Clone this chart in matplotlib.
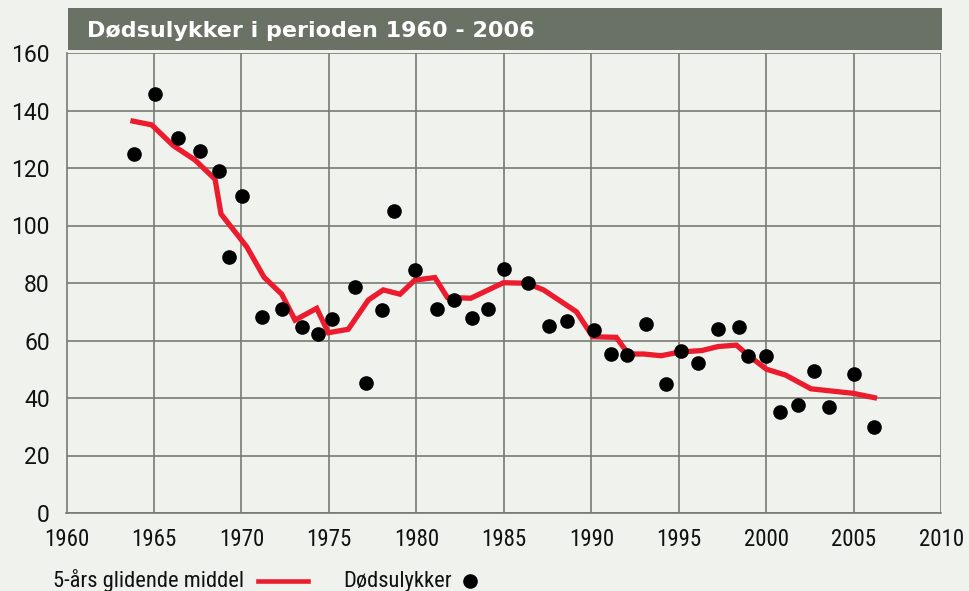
import matplotlib
matplotlib.use("Agg")
import matplotlib.pyplot as plt
from matplotlib.lines import Line2D
from matplotlib.patches import Rectangle
from matplotlib import font_manager

# ---- data ----
point_years = [1963.86, 1965.04, 1966.39, 1967.63, 1968.71, 1969.29, 1970.05, 1971.15,
               1972.33, 1973.47, 1974.35, 1975.15, 1976.49, 1977.10, 1978.05, 1978.73,
               1979.92, 1981.20, 1982.17, 1983.15, 1984.06, 1985.02, 1986.37, 1987.58,
               1988.60, 1990.13, 1991.10, 1992.05, 1993.10, 1994.23, 1995.10, 1996.10,
               1997.24, 1998.45, 1998.97, 2000.00, 2000.77, 2001.81, 2002.74, 2003.58,
               2004.98, 2006.17]
fatalities = [124.9, 145.8, 130.5, 125.9, 119.1, 89.2, 110.3, 68.3,
              70.9, 64.6, 62.4, 67.4, 78.7, 45.2, 70.5, 105.2,
              84.5, 71.0, 74.1, 67.7, 70.9, 85.0, 80.1, 65.0,
              66.7, 63.7, 55.2, 55.0, 65.6, 44.8, 56.3, 52.1,
              64.0, 64.6, 54.7, 54.7, 35.2, 37.7, 49.4, 36.8,
              48.3, 30.0]

avg_years = [1963.8, 1964.87, 1966.1, 1967.34, 1968.49, 1968.83, 1970.3, 1971.29,
             1972.3, 1973.06, 1974.3, 1974.96, 1976.1, 1977.25, 1978.1, 1979.06,
             1979.9, 1981.05, 1981.76, 1983.1, 1984.97, 1986.3, 1987.26, 1988.2,
             1989.14, 1990.07, 1991.42, 1992.1, 1992.98, 1993.97, 1995.06, 1996.3,
             1997.24, 1998.28, 1999.0, 2000.0, 2001.08, 2002.54, 2004.98, 2006.17]
moving_avg = [136.3, 135.0, 127.8, 122.8, 116.1, 104.0, 92.6, 82.0,
              76.1, 67.1, 71.2, 62.7, 63.9, 74.1, 77.6, 76.1,
              81.0, 81.9, 75.0, 74.7, 80.1, 79.9, 77.6, 73.8,
              70.0, 61.3, 61.1, 55.3, 55.3, 54.7, 56.0, 56.5,
              57.9, 58.4, 54.6, 50.0, 48.0, 43.2, 41.6, 40.1]

x_ticks = [1960, 1965, 1970, 1975, 1980, 1985, 1990, 1995, 2000, 2005, 2010]
y_ticks = [0, 20, 40, 60, 80, 100, 120, 140, 160]

title = "Dødsulykker i perioden 1960 - 2006"
label_avg = "5-års glidende middel"
label_pts = "Dødsulykker"

# ---- style ----
BG = "#f0f2ed"
BAR = "#6a7265"
GRID = "#777c72"
RED = "#ec1c2e"

installed = {f.name for f in font_manager.fontManager.ttflist}
condensed = None
for cand in ["Roboto Condensed", "Liberation Sans Narrow", "Open Sans Condensed",
             "Noto Sans Condensed"]:
    if cand in installed:
        condensed = cand
        break
if condensed is not None:
    FONT = [condensed, "DejaVu Sans"]
    sz_xtick, sz_leg = 16.5, 16.2
else:
    FONT = ["Liberation Sans", "DejaVu Sans"]
    sz_xtick, sz_leg = 15, 14.5
plt.rcParams["font.family"] = FONT
YFONT = ["Roboto", "DejaVu Sans"]
TFONT = ["DejaVu Sans"]

W, H = 970, 591
fig = plt.figure(figsize=(W / 100, H / 100), dpi=100, facecolor=BG)

ax = fig.add_axes([66.5 / W, 1 - 513 / H, (941.5 - 66.5) / W, (513 - 53) / H])
ax.set_facecolor(BG)
ax.set_xlim(1960, 2010)
ax.set_ylim(0, 160)
ax.set_xticks(x_ticks)
ax.set_yticks(y_ticks)
ax.set_xticklabels([str(t) for t in x_ticks], fontsize=sz_xtick)
ax.set_yticklabels([str(t) for t in y_ticks], fontsize=16.5, family=YFONT)
ax.grid(True, color=GRID, linewidth=1.2)
ax.set_axisbelow(True)
for s in ["top", "right"]:
    ax.spines[s].set_visible(False)
for s in ["left", "bottom"]:
    ax.spines[s].set_color(GRID)
    ax.spines[s].set_linewidth(1.2)
ax.tick_params(axis="both", length=0, colors="#111111")
ax.tick_params(axis="x", pad=11)
ax.tick_params(axis="y", pad=12)

ax.plot(avg_years, moving_avg, color=RED, linewidth=3.8, solid_joinstyle="miter",
        zorder=3, clip_on=False)
ax.plot(point_years, fatalities, linestyle="none", marker="o", markersize=9.5,
        color="black", zorder=4, clip_on=False)

# title bar
fig.patches.append(Rectangle((68 / W, 1 - 50 / H), (942 - 68) / W, (50 - 8) / H,
                             transform=fig.transFigure, facecolor=BAR,
                             edgecolor="none", zorder=0))
fig.text(87 / W, 1 - 37 / H, title, color="white", fontsize=16, fontweight="bold",
         family=TFONT, va="baseline", ha="left")

# legend at bottom
lb = 1 - 586.5 / H
ly = 1 - 580.5 / H
fig.text(53.5 / W, lb, label_avg, fontsize=sz_leg, va="baseline", ha="left", color="#111111")
fig.add_artist(Line2D([258 / W, 308 / W], [ly, ly], color=RED, linewidth=3.3,
                      transform=fig.transFigure))
fig.text(343 / W, lb, label_pts, fontsize=sz_leg, va="baseline", ha="left", color="#111111")
fig.add_artist(Line2D([470 / W], [ly], marker="o", markersize=9.5, color="black",
                      linestyle="none", transform=fig.transFigure))

fig.savefig("out.png", dpi=100, facecolor=BG)
